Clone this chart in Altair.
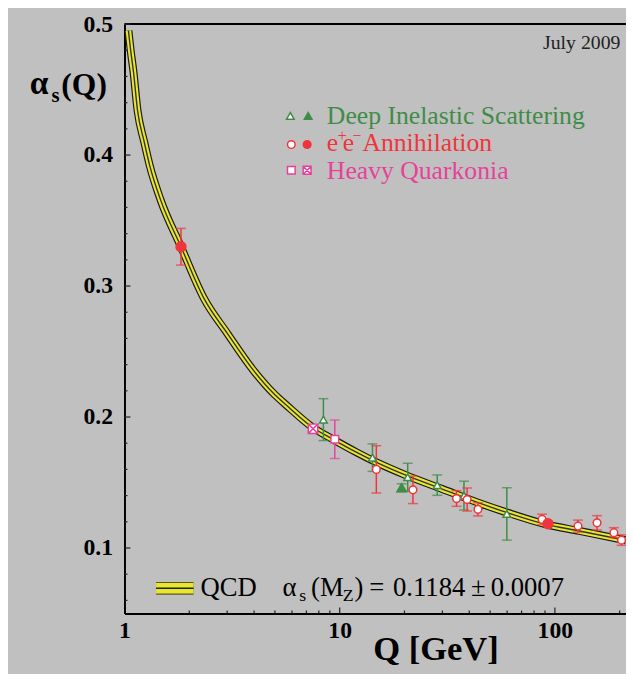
import altair as alt
import pandas as pd

# ---------------- data ----------------
# QCD running coupling curve (central line)
curve_Q = [1.043, 1.07, 1.10, 1.15, 1.235, 1.31, 1.47, 1.83, 2.35, 3.0, 4.0, 5.0, 5.66, 7.5,
           9.3, 12, 15, 20, 30, 45, 60, 91, 130, 214]
curve_a = [0.495, 0.479, 0.464, 0.434, 0.410, 0.392, 0.366, 0.330, 0.290, 0.264, 0.235,
           0.217, 0.209, 0.192, 0.183, 0.173, 0.165, 0.156, 0.145, 0.134, 0.127, 0.118,
           0.113, 0.1058]

# Deep inelastic scattering
dis_open_Q = [8.4, 14.2, 20.7, 28.4, 37.8, 59.8]
dis_open_a = [0.198, 0.169, 0.154, 0.148, 0.140, 0.126]
dis_open_e = [0.016, 0.0105, 0.0107, 0.0078, 0.011, 0.020]
dis_full_Q = [19.4]
dis_full_a = [0.146]
dis_full_e = [0.003]

# e+e- annihilation
ee_open_Q = [14.8, 21.9, 34.9, 39.1, 43.9, 87.2, 128, 157, 188, 204]
ee_open_a = [0.160, 0.1444, 0.1378, 0.137, 0.1295, 0.1218, 0.1167, 0.1192, 0.1117, 0.106]
ee_open_e = [0.018, 0.0105, 0.006, 0.0088, 0.005, 0.004, 0.0046, 0.0055, 0.0038, 0.004]
ee_full_Q = [1.83, 92.9]
ee_full_a = [0.330, 0.1185]
ee_full_e = [0.014, 0.002]

# Heavy quarkonia
hq_open_Q = [9.49]
hq_open_a = [0.183]
hq_open_e = [0.0147]
hq_cross_Q = [7.52]
hq_cross_a = [0.191]

# axis ticks
x_labels = [1, 10, 100]
x_major = [10, 100]
x_minor = [2, 3, 4, 5, 6, 7, 8, 9, 20, 30, 40, 50, 60, 70, 80, 90, 200]
y_labels = [0.1, 0.2, 0.3, 0.4, 0.5]
y_minor = [0.06, 0.08, 0.12, 0.14, 0.16, 0.18, 0.22, 0.24, 0.26, 0.28,
           0.32, 0.34, 0.36, 0.38, 0.42, 0.44, 0.46, 0.48]

# ---------------- styling ----------------
W, H = 508, 597
GREEN = "#3f8c47"
RED = "#f0343c"
PINK = "#e8409a"
YELLOW = "#e8e630"
SERIF = "Liberation Serif"

xs = alt.Scale(type="log", domain=[1, 214], nice=False)
ys = alt.Scale(domain=[0.05, 0.5], nice=False, zero=False)

def tbl(Q, a, e=None):
    d = {"Q": Q, "a": a}
    if e is not None:
        d["lo"] = [v - w for v, w in zip(a, e)]
        d["hi"] = [v + w for v, w in zip(a, e)]
    return pd.DataFrame(d)

curve = tbl(curve_Q, curve_a)
X = alt.X("Q:Q", scale=xs)

base_axes = alt.Chart(curve).mark_point(opacity=0).encode(
    x=alt.X("Q:Q", scale=xs, title="Q [GeV]",
            axis=alt.Axis(values=x_labels, format="~g", ticks=False, grid=False,
                          domainColor="black", domainWidth=2,
                          labelFont=SERIF, labelFontWeight="bold", labelFontSize=24,
                          labelColor="black", labelPadding=5, labelFlush=False,
                          titleFont=SERIF, titleFontWeight="bold", titleFontSize=35,
                          titleColor="black", titleX=315, titleY=47,
                          titleAlign="center", titleBaseline="alphabetic")),
    y=alt.Y("a:Q", scale=ys, title=None,
            axis=alt.Axis(values=y_labels, format=".1f", ticks=False, grid=False,
                          domainColor="black", domainWidth=2,
                          labelFont=SERIF, labelFontWeight="bold", labelFontSize=24,
                          labelColor="black", labelPadding=12, labelFlush=False)),
)

layers = [base_axes]

# frame top line
layers.append(alt.Chart(pd.DataFrame({"k": [0]})).mark_rule(color="black", strokeWidth=2).encode(
    x=alt.value(0), x2=alt.value(W), y=alt.value(0)))

# inward ticks
layers.append(alt.Chart(pd.DataFrame({"v": y_labels})).mark_rule(color="#222", strokeWidth=1.2).encode(
    y=alt.Y("v:Q", scale=ys), x=alt.value(0), x2=alt.value(6)))
layers.append(alt.Chart(pd.DataFrame({"v": y_minor})).mark_rule(color="#222", strokeWidth=1.2).encode(
    y=alt.Y("v:Q", scale=ys), x=alt.value(0), x2=alt.value(3)))
layers.append(alt.Chart(pd.DataFrame({"v": x_major})).mark_rule(color="#222", strokeWidth=1.2).encode(
    x=alt.X("v:Q", scale=xs), y=alt.value(H), y2=alt.value(H - 6)))
layers.append(alt.Chart(pd.DataFrame({"v": x_minor})).mark_rule(color="#222", strokeWidth=1.2).encode(
    x=alt.X("v:Q", scale=xs), y=alt.value(H), y2=alt.value(H - 3)))

# QCD band
for col, sw in [("#1a1a1a", 8), (YELLOW, 5.6), ("#333333", 1.4)]:
    layers.append(alt.Chart(curve).mark_line(color=col, strokeWidth=sw, interpolate="monotone",
                                             clip=True).encode(
        x=X, y=alt.Y("a:Q", scale=ys)))

def errbars(df, color):
    df = df[df["hi"] > df["lo"]]
    r = alt.Chart(df).mark_rule(color=color, strokeWidth=1.5).encode(
        x=X, y=alt.Y("lo:Q", scale=ys), y2="hi:Q")
    t1 = alt.Chart(df).mark_tick(color=color, orient="horizontal", size=10, thickness=1.5).encode(
        x=X, y=alt.Y("lo:Q", scale=ys))
    t2 = alt.Chart(df).mark_tick(color=color, orient="horizontal", size=10, thickness=1.5).encode(
        x=X, y=alt.Y("hi:Q", scale=ys))
    return [r, t1, t2]

d_dis_o = tbl(dis_open_Q, dis_open_a, dis_open_e)
d_dis_f = tbl(dis_full_Q, dis_full_a, dis_full_e)
d_ee_o = tbl(ee_open_Q, ee_open_a, ee_open_e)
d_ee_f = tbl(ee_full_Q, ee_full_a, ee_full_e)
d_hq_o = tbl(hq_open_Q, hq_open_a, hq_open_e)
d_hq_x = tbl(hq_cross_Q, hq_cross_a)

for df, c in [(d_dis_o, GREEN), (d_dis_f, GREEN), (d_ee_o, RED), (d_ee_f, RED), (d_hq_o, PINK)]:
    layers += errbars(df, c)

CROSS_SQ = "M-1,-1L1,-1L1,1L-1,1Z M-1,-1L1,1 M1,-1L-1,1"

def pts(df, shape, fill, stroke, size):
    return alt.Chart(df).mark_point(shape=shape, filled=True, fill=fill, stroke=stroke,
                                    strokeWidth=1.5, size=size, opacity=1, fillOpacity=1).encode(
        x=X, y=alt.Y("a:Q", scale=ys))

layers += [
    pts(d_dis_o, "triangle-up", "white", GREEN, 60),
    pts(d_dis_f, "triangle-up", GREEN, GREEN, 90),
    pts(d_ee_o, "circle", "white", RED, 60),
    pts(d_ee_f, "circle", RED, RED, 100),
    pts(d_hq_o, "square", "white", PINK, 60),
    pts(d_hq_x, CROSS_SQ, "white", PINK, 90),
]

one = pd.DataFrame({"k": [0]})

def txt(s, x, y, size, color="black", weight="normal"):
    return alt.Chart(one).mark_text(text=s, align="left", baseline="alphabetic", font=SERIF,
                                    fontSize=size, fontWeight=weight, color=color).encode(
        x=alt.value(x), y=alt.value(y))

def sym(shape, fill, stroke, x, y, size=60):
    return alt.Chart(one).mark_point(shape=shape, filled=True, fill=fill, stroke=stroke,
                                     strokeWidth=1.5, size=size, opacity=1).encode(
        x=alt.value(x), y=alt.value(y))

# top legend
layers += [
    sym("triangle-up", "white", GREEN, 168, 93),
    sym("triangle-up", GREEN, GREEN, 186, 93),
    sym("circle", "white", RED, 169, 122),
    sym("circle", RED, RED, 185, 122),
    sym("square", "white", PINK, 169, 148),
    sym(CROSS_SQ, "white", PINK, 185, 148, 64),
    txt("Deep Inelastic Scattering", 205, 101, 26, GREEN),
    txt("e", 205, 129, 26, RED),
    txt("+", 216, 118, 16, RED),
    txt("e", 221, 129, 26, RED),
    txt("\u2212", 231, 118, 16, RED),
    txt("Annihilation", 241, 129, 26, RED),
    txt("Heavy Quarkonia", 205, 157, 26, PINK),
    txt("July 2009", 424, 25, 20, "#222"),
    # y-axis title
    txt("\u03b1", -96, 71, 34, "black", "bold"),
    txt("s", -74, 79, 21, "black", "bold"),
    txt("(Q)", -64, 72, 32, "black", "bold"),
]

# bottom legend swatch
for col, sw in [("#5a5a20", 13), (YELLOW, 10.5), ("#222222", 1.5)]:
    layers.append(alt.Chart(one).mark_rule(color=col, strokeWidth=sw).encode(
        x=alt.value(32), x2=alt.value(70), y=alt.value(571.5)))
layers += [
    txt("QCD", 77, 579, 27),
    txt("\u03b1", 160, 579, 27),
    txt("s", 177, 584, 18),
    txt("(M", 189, 579, 27),
    txt("Z", 221, 584, 18),
    txt(")", 233, 579, 27),
    txt("=", 248, 579, 27),
    txt("0.1184", 272, 579, 27),
    txt("\u00b1", 351, 579, 27),
    txt("0.0007", 371, 579, 27),
]

chart = alt.layer(*layers).properties(
    width=W, height=H,
    autosize=alt.AutoSizeParams(type="none"),
    padding={"left": 118, "top": 12, "right": 0, "bottom": 57},
    background="#c0c0c0",
).configure_view(stroke=None)

chart.save("out.html", embed_options={"renderer": "svg", "actions": False})
